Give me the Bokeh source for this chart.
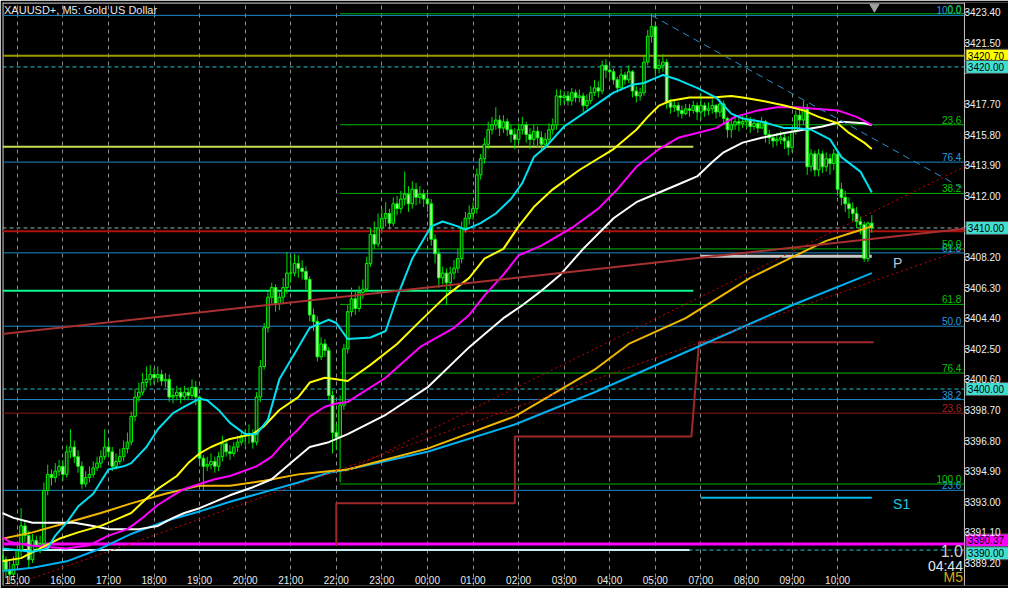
from bokeh.plotting import figure
from bokeh.models import ColumnDataSource, Range1d, FixedTicker, Label, NumeralTickFormatter
from bokeh.core.properties import value
from bokeh.embed import file_html
from bokeh.resources import INLINE

FONT = "Liberation Sans"

# ---------------- axis labels ----------------
hour_labels = ["15:00", "16:00", "17:00", "18:00", "19:00", "20:00", "21:00", "22:00", "23:00",
               "00:00", "01:00", "02:00", "03:00", "04:00", "05:00", "07:00", "08:00", "09:00", "10:00"]
bars_per_hour = 12
price_ticks = [3389.20, 3391.10, 3393.00, 3394.90, 3396.80, 3398.70, 3400.60, 3402.50, 3404.40,
               3406.30, 3408.20, 3410.10, 3412.00, 3413.90, 3415.80, 3417.70, 3419.60, 3421.50, 3423.40]
hidden_ticks = [3410.10, 3419.60]   # covered by the current-price boxes

# ---------------- M5 candles (bar index 0 = 15:00) ----------------
first_bar = -4
first_open = 3389.7
close = [
    3389.4, 3388.8, 3388.5, 3389.1,
    3390.0, 3391.5, 3390.9, 3389.4, 3390.6, 3390.3, 3390.4, 3393.7, 3394.7, 3394.5, 3394.9, 3395.2,
    3394.7, 3396.1, 3396.4, 3395.8, 3395.2, 3394.1, 3394.5, 3394.7, 3395.1, 3395.4, 3395.8, 3396.4,
    3396.1, 3395.2, 3395.5, 3395.8, 3396.3, 3396.7, 3398.3, 3399.5, 3399.8, 3400.4, 3400.6, 3400.9,
    3400.7, 3400.9, 3400.5, 3400.6, 3399.5, 3399.6, 3399.8, 3399.5, 3399.8, 3399.6, 3400.1, 3399.5,
    3395.7, 3395.2, 3395.3, 3395.5, 3395.2, 3395.8, 3396.6, 3396.1, 3396.0, 3396.4, 3396.7, 3397.1,
    3397.1, 3397.2, 3396.7, 3399.5, 3401.4, 3403.8, 3405.7, 3406.3, 3405.3, 3405.7, 3406.3, 3407.2,
    3407.2, 3407.8, 3407.5, 3407.3, 3406.8, 3404.6, 3404.2, 3402.0, 3402.8, 3402.4, 3399.6, 3397.3,
    3397.0, 3399.0, 3402.5, 3404.8, 3405.6, 3405.0, 3406.0, 3406.2, 3407.8, 3409.6, 3409.0, 3410.0,
    3410.6, 3410.9, 3410.3, 3411.5, 3411.2, 3411.8, 3412.1, 3411.5, 3412.4, 3411.9, 3412.1, 3411.8,
    3411.5, 3409.3, 3408.4, 3406.9, 3407.2, 3406.6, 3407.2, 3407.5, 3408.1, 3410.0, 3410.6, 3410.9,
    3411.2, 3413.3, 3414.3, 3415.2, 3416.1, 3416.4, 3416.7, 3416.2, 3416.6, 3416.1, 3415.8, 3415.5,
    3416.1, 3416.4, 3415.8, 3415.5, 3416.0, 3415.6, 3415.2, 3415.5, 3416.1, 3416.4, 3418.2, 3418.1,
    3418.2, 3417.9, 3418.4, 3418.1, 3418.2, 3417.6, 3417.9, 3418.4, 3418.7, 3418.5, 3420.1, 3419.8,
    3419.7, 3419.2, 3418.7, 3419.5, 3419.2, 3419.7, 3418.5, 3418.2, 3418.4, 3420.3, 3421.9, 3422.5,
    3419.9, 3420.1, 3420.3, 3417.8, 3417.5, 3417.6, 3417.3, 3417.1, 3417.4, 3417.3, 3417.6, 3417.2,
    3417.6, 3417.3, 3417.4, 3417.6, 3417.2, 3417.7, 3416.8, 3416.1, 3416.4, 3416.6, 3416.5, 3416.6,
    3416.7, 3416.3, 3416.5, 3416.2, 3416.6, 3415.8, 3415.6, 3415.4, 3415.5, 3415.6, 3415.4, 3415.0,
    3416.0, 3417.0, 3416.7, 3417.4, 3413.8, 3414.6, 3413.6, 3414.6, 3413.8, 3414.3, 3414.0, 3414.6,
    3412.4, 3411.9, 3411.5, 3411.2, 3410.9, 3410.4, 3410.2, 3408.1, 3410.3, 3410.0,
]
high = [
    3390.0, 3389.6, 3389.3, 3389.6,
    3390.3, 3392.6, 3391.8, 3391.2, 3391.0, 3390.9, 3390.9, 3394.2, 3395.3, 3395.0, 3395.4, 3395.6,
    3395.6, 3396.5, 3397.5, 3396.8, 3396.2, 3395.5, 3394.9, 3395.2, 3395.5, 3395.8, 3396.2, 3397.5,
    3396.8, 3396.4, 3396.0, 3396.3, 3396.8, 3397.3, 3398.6, 3400.0, 3400.4, 3401.0, 3401.4, 3401.5,
    3401.3, 3401.4, 3401.2, 3401.0, 3400.9, 3400.0, 3400.2, 3400.1, 3400.2, 3400.1, 3400.6, 3400.5,
    3399.6, 3395.9, 3395.8, 3396.0, 3395.8, 3396.1, 3397.1, 3396.9, 3396.5, 3396.7, 3397.1, 3397.4,
    3397.5, 3397.8, 3397.5, 3399.8, 3401.8, 3404.1, 3406.0, 3406.6, 3406.5, 3406.0, 3406.9, 3408.5,
    3408.3, 3408.4, 3408.3, 3408.0, 3407.6, 3407.0, 3405.0, 3404.5, 3403.2, 3403.1, 3402.6, 3399.9,
    3397.8, 3399.6, 3402.8, 3405.2, 3406.3, 3406.1, 3406.4, 3406.8, 3408.2, 3410.0, 3410.4, 3410.9,
    3411.2, 3411.6, 3411.2, 3411.9, 3412.0, 3412.3, 3413.5, 3412.6, 3412.9, 3412.8, 3412.6, 3412.4,
    3412.2, 3411.8, 3409.6, 3408.7, 3407.6, 3407.5, 3407.6, 3408.0, 3408.7, 3410.4, 3411.0, 3411.4,
    3411.6, 3413.7, 3414.6, 3415.6, 3416.6, 3416.9, 3417.5, 3417.0, 3417.0, 3416.8, 3416.4, 3416.2,
    3416.5, 3416.9, 3416.6, 3416.2, 3416.4, 3416.3, 3416.0, 3415.9, 3416.5, 3416.8, 3418.6, 3418.6,
    3418.5, 3418.5, 3418.7, 3418.6, 3418.6, 3418.4, 3418.3, 3418.8, 3419.2, 3419.1, 3420.4, 3420.5,
    3420.3, 3419.9, 3419.4, 3419.9, 3419.7, 3420.1, 3419.8, 3418.8, 3418.7, 3420.7, 3422.3, 3423.3,
    3422.8, 3420.5, 3420.8, 3420.5, 3418.0, 3417.9, 3417.8, 3417.6, 3417.7, 3417.7, 3417.9, 3417.8,
    3418.4, 3417.8, 3417.8, 3418.0, 3417.7, 3418.0, 3417.9, 3416.9, 3416.8, 3417.0, 3416.9, 3417.0,
    3417.1, 3416.9, 3416.8, 3416.7, 3416.9, 3416.7, 3416.1, 3415.8, 3415.9, 3416.0, 3415.9, 3415.7,
    3416.3, 3417.3, 3417.4, 3417.9, 3417.7, 3414.9, 3414.8, 3414.9, 3414.8, 3414.7, 3414.6, 3414.9,
    3414.6, 3412.8, 3412.3, 3411.9, 3411.6, 3411.3, 3410.7, 3410.4, 3410.4, 3410.8,
]
low = [
    3388.6, 3388.3, 3387.9, 3388.2,
    3389.0, 3389.6, 3390.5, 3388.9, 3389.2, 3389.9, 3389.8, 3390.2, 3393.4, 3394.0, 3394.2, 3394.6,
    3394.3, 3394.5, 3395.7, 3395.4, 3394.8, 3393.8, 3393.9, 3394.2, 3394.5, 3394.9, 3395.1, 3395.6,
    3395.8, 3394.9, 3395.0, 3395.3, 3395.5, 3396.0, 3396.5, 3398.0, 3399.2, 3399.6, 3400.1, 3400.2,
    3400.3, 3400.4, 3400.2, 3400.1, 3399.2, 3399.1, 3399.3, 3399.1, 3399.3, 3399.3, 3399.4, 3399.0,
    3395.2, 3393.7, 3394.9, 3395.0, 3394.8, 3394.9, 3395.5, 3395.8, 3395.6, 3395.8, 3396.1, 3396.5,
    3396.5, 3396.6, 3396.3, 3396.5, 3399.2, 3401.2, 3403.5, 3405.3, 3404.8, 3404.9, 3405.3, 3405.9,
    3406.6, 3407.0, 3406.9, 3406.8, 3406.2, 3404.2, 3403.6, 3401.7, 3401.8, 3402.0, 3399.3, 3396.0,
    3396.2, 3394.2, 3398.7, 3402.2, 3404.5, 3404.6, 3404.8, 3405.6, 3406.0, 3407.6, 3408.7, 3408.8,
    3409.8, 3410.1, 3409.9, 3410.1, 3410.8, 3410.9, 3411.4, 3411.0, 3411.2, 3411.4, 3411.5, 3411.3,
    3411.0, 3408.9, 3407.8, 3406.3, 3406.5, 3405.2, 3406.2, 3406.8, 3407.2, 3407.8, 3409.7, 3410.2,
    3410.5, 3410.9, 3413.0, 3414.0, 3414.9, 3415.8, 3416.1, 3415.7, 3415.9, 3415.7, 3415.3, 3414.9,
    3415.2, 3415.8, 3415.3, 3414.9, 3415.1, 3415.0, 3414.7, 3414.9, 3415.3, 3415.8, 3416.1, 3417.6,
    3417.7, 3417.6, 3417.6, 3417.8, 3417.8, 3417.2, 3417.4, 3417.7, 3418.2, 3418.1, 3418.3, 3419.3,
    3419.2, 3418.9, 3418.4, 3418.5, 3418.9, 3419.0, 3418.1, 3417.8, 3417.9, 3418.2, 3420.1, 3421.5,
    3419.4, 3419.6, 3419.7, 3417.4, 3417.1, 3417.2, 3416.9, 3416.8, 3417.0, 3416.9, 3417.1, 3416.7,
    3416.7, 3416.9, 3417.0, 3417.1, 3416.8, 3416.9, 3416.4, 3415.6, 3415.6, 3416.1, 3416.0, 3416.2,
    3416.2, 3415.9, 3416.1, 3415.9, 3416.2, 3415.3, 3415.2, 3415.0, 3415.1, 3415.2, 3414.9, 3414.5,
    3414.7, 3415.8, 3416.2, 3416.4, 3413.3, 3413.5, 3413.2, 3413.2, 3413.4, 3413.5, 3413.3, 3413.6,
    3412.0, 3411.4, 3411.0, 3410.6, 3410.4, 3410.0, 3409.6, 3407.9, 3407.9, 3409.7,
]

# ---------------- moving averages (bar index, price) ----------------
ma_cyan_i = [-4, 4, 8, 10, 13, 16, 20, 24, 28, 30, 34, 37, 41, 44, 48, 50, 53, 56, 60, 63, 66, 69, 74, 77,
             82, 84, 87, 93, 97, 100, 104, 109, 112, 116, 118, 122, 126, 130, 133, 136, 139, 144, 149, 157,
             162, 165, 168, 170, 174, 179, 184, 188, 191, 196, 202, 205, 209, 214, 217, 222, 225]
ma_cyan_p = [3390.1, 3389.9, 3390.1, 3390.9, 3391.7, 3392.7, 3393.5, 3395.0, 3395.2, 3395.4, 3396.4, 3397.5,
             3398.5, 3398.9, 3399.4, 3399.3, 3398.7, 3397.9, 3397.2, 3397.2, 3398.1, 3400.6, 3402.6, 3403.8,
             3404.3, 3404.1, 3403.1, 3403.2, 3403.6, 3405.7, 3408.1, 3410.1, 3410.4, 3410.1, 3409.9, 3410.3,
             3410.9, 3411.8, 3412.8, 3414.4, 3415.0, 3416.3, 3417.1, 3418.4, 3418.9, 3419.0, 3419.3, 3419.5,
             3419.2, 3418.7, 3418.1, 3417.1, 3416.8, 3416.6, 3416.2, 3416.2, 3416.1, 3415.5, 3414.4, 3413.5,
             3412.2]
ma_yellow_i = [-4, 1, 6, 11, 16, 22, 27, 30, 34, 37, 42, 45, 48, 51, 56, 62, 65, 69, 74, 77, 81, 84, 87, 93,
               100, 106, 113, 119, 123, 128, 132, 136, 141, 148, 157, 163, 166, 169, 172, 177, 183, 188, 191,
               196, 202, 207, 211, 216, 219, 223, 225]
ma_yellow_p = [3389.3, 3389.5, 3390.1, 3390.7, 3391.1, 3391.5, 3392.0, 3392.3, 3393.2, 3393.8, 3394.6, 3395.4,
               3396.0, 3396.4, 3396.9, 3397.2, 3397.7, 3398.7, 3399.5, 3400.4, 3400.7, 3400.6, 3400.5, 3401.5,
               3402.8, 3404.2, 3405.8, 3406.9, 3408.1, 3408.7, 3410.1, 3411.3, 3412.4, 3413.6, 3414.9, 3416.1,
               3416.9, 3417.6, 3417.9, 3418.1, 3418.1, 3418.2, 3418.1, 3417.9, 3417.6, 3417.3, 3416.9, 3416.5,
               3415.9, 3415.3, 3414.9]
ma_magenta_i = [-4, -2, 3, 7, 13, 19, 24, 29, 33, 37, 41, 44, 48, 52, 56, 63, 67, 70, 74, 77, 81, 84, 87, 97,
                106, 115, 119, 123, 128, 132, 138, 146, 153, 158, 163, 169, 174, 179, 184, 189, 195, 200, 205,
                210, 216, 221, 225]
ma_magenta_p = [3390.8, 3390.5, 3390.3, 3390.2, 3390.1, 3390.3, 3390.9, 3391.3, 3392.0, 3392.8, 3393.4, 3393.8,
                3394.1, 3394.4, 3394.6, 3395.2, 3395.8, 3396.6, 3397.5, 3398.3, 3398.9, 3399.1, 3399.2, 3400.7,
                3402.6, 3403.8, 3404.6, 3405.8, 3407.1, 3408.3, 3408.9, 3410.0, 3411.2, 3412.4, 3413.8, 3414.9,
                3415.6, 3415.9, 3416.2, 3416.9, 3417.3, 3417.5, 3417.5, 3417.4, 3417.3, 3416.9, 3416.4]
ma_white_i = [-4, -1, 4, 9, 15, 20, 24, 29, 32, 37, 41, 44, 48, 51, 56, 62, 67, 72, 77, 82, 87, 97, 108, 119,
              123, 128, 133, 138, 143, 149, 157, 163, 169, 174, 179, 183, 186, 191, 196, 202, 207, 212, 217,
              223, 225]
ma_white_p = [3392.3, 3392.0, 3391.7, 3391.7, 3391.7, 3391.5, 3391.3, 3391.3, 3391.3, 3391.5, 3392.0, 3392.3,
              3392.6, 3392.9, 3393.4, 3393.9, 3394.4, 3395.4, 3396.4, 3396.7, 3397.2, 3398.4, 3400.1, 3402.6,
              3403.4, 3404.4, 3405.2, 3406.1, 3407.1, 3408.7, 3410.6, 3411.6, 3412.2, 3412.7, 3413.2, 3414.1,
              3414.7, 3415.3, 3415.6, 3415.9, 3416.1, 3416.3, 3416.6, 3416.5, 3416.4]
ma_gold_i = [-4, 4, 13, 22, 30, 39, 48, 56, 65, 74, 82, 87, 108, 131, 152, 161, 176, 193, 205, 213, 221, 225]
ma_gold_p = [3390.7, 3391.1, 3391.7, 3392.3, 3392.9, 3393.5, 3394.0, 3394.0, 3394.3, 3394.7, 3394.9, 3395.0,
             3396.3, 3398.3, 3401.2, 3402.8, 3404.4, 3406.9, 3408.3, 3409.2, 3409.8, 3410.1]
ma_blue_i = [-4, 4, 13, 22, 30, 39, 48, 56, 65, 74, 82, 87, 108, 131, 152, 178, 204, 225]
ma_blue_p = [3388.7, 3388.9, 3389.3, 3390.1, 3391.0, 3391.8, 3392.4, 3393.0, 3393.6, 3394.2, 3394.8, 3395.0,
             3396.1, 3397.8, 3399.8, 3402.5, 3405.2, 3407.2]

# ---------------- chart objects ----------------
fib_ratios = [0.0, 23.6, 38.2, 50.0, 61.8, 76.4, 100.0]
fib_green_high, fib_green_low, fib_green_start = 3423.3, 3394.1, 85
fib_blue_high, fib_blue_low = 3423.2, 3384.6
fib_red_level = 3398.5

hline_olive = 3420.70
hlines_cyan_dashed = [3420.00, 3400.00, 3390.00]
hline_bid = 3410.00
hline_red = 3409.8
hline_magenta = 3390.37
hline_lime = 3415.05
hline_spring = 3406.1
hline_pale = 3390.0
pivot_p = 3408.25
support_s1 = 3393.25
pivot_start, pivot_end = 180, 225

step_i = [84, 84, 131, 131, 177.5, 179.5, 225.5]
step_p = [3390.3, 3392.9, 3392.9, 3397.05, 3397.05, 3402.9, 3402.9]

trend_brown_i = [-4.4, 249.4]
trend_brown_p = [3403.4, 3409.95]
trend_dot_up_i = [85, 249.4]
trend_dot_up_p = [3394.7, 3413.8]
trend_dot_low_i = [-4.4, 249.4]
trend_dot_low_p = [3387.55, 3408.7]
trend_blue_i = [167, 249.4]
trend_blue_p = [3423.2, 3412.4]

box_prices = [3420.70, 3420.00, 3410.00, 3400.00, 3390.37, 3390.00]
box_colors = ["#ffff00", "#40e0d0", "#40e0d0", "#40e0d0", "#ff00ff", "#40e0d0"]

# ---------------- figure ----------------
# the frame spans the whole width; the price scale column sits right of AX (bar-index units)
W, H = 1008, 588
X0, AX, X1 = -3.9, 249.4, 261.0
Y0, Y1 = 3387.8, 3424.0
p = figure(width=W, height=H, x_range=Range1d(X0, X1), y_range=Range1d(Y0, Y1),
           output_backend="svg", toolbar_location=None, y_axis_location="right",
           background_fill_color="black", border_fill_color="black",
           min_border_left=2, min_border_top=2, min_border_right=0, min_border_bottom=0)
p.outline_line_color = None

hour_ticks = [k * bars_per_hour for k in range(len(hour_labels))]
p.xaxis.ticker = FixedTicker(ticks=hour_ticks, minor_ticks=[])
p.xaxis.major_label_overrides = {t: lab for t, lab in zip(hour_ticks, hour_labels)}
p.xaxis.axis_line_color = None
p.xaxis.major_tick_line_color = None
p.xaxis.major_tick_out = 0
p.xaxis.major_tick_in = 0
p.xaxis.minor_tick_line_color = None
p.xaxis.major_label_text_color = "#e8e8e8"
p.xaxis.major_label_text_font = FONT
p.xaxis.major_label_text_font_size = "10px"
p.xaxis.major_label_standoff = -11
p.xgrid.ticker = FixedTicker(ticks=hour_ticks, minor_ticks=[])
p.xgrid.grid_line_color = "#8c8c8c"
p.xgrid.grid_line_dash = "4 4"
p.ygrid.grid_line_color = None

p.yaxis.ticker = FixedTicker(ticks=price_ticks, minor_ticks=[])
p.yaxis.formatter = NumeralTickFormatter(format="0.00")
p.yaxis.major_label_overrides = {t: "" for t in hidden_ticks}
p.yaxis.axis_line_color = None
p.yaxis.major_tick_line_color = None
p.yaxis.major_tick_out = 0
p.yaxis.major_tick_in = 0
p.yaxis.minor_tick_line_color = None
p.yaxis.major_label_text_color = "#f0f0f0"
p.yaxis.major_label_text_font = FONT
p.yaxis.major_label_text_font_size = "10px"
p.yaxis.major_label_standoff = -44

# chart border, price-scale line and its tick marks
p.segment(x0=[X0 + 0.15, X0, AX], x1=[X0 + 0.15, AX, AX], y0=[Y0, Y1 - 0.04, Y0], y1=[Y1, Y1 - 0.04, Y1],
          line_color="#c8c8c8", line_width=1)
p.segment(x0=[AX] * len(price_ticks), x1=[AX + 1.05] * len(price_ticks), y0=price_ticks, y1=price_ticks,
          line_color="#c8c8c8", line_width=1)

# horizontal objects (all end at the price scale)
def hlines(prices, color, width=1, dash="solid", x_from=X0, x_to=AX):
    p.segment(x0=[x_from] * len(prices), x1=[x_to] * len(prices), y0=prices, y1=prices,
              line_color=color, line_width=width, line_dash=dash)

blue_fib = [fib_blue_low + r / 100.0 * (fib_blue_high - fib_blue_low) for r in fib_ratios]
green_fib = [fib_green_high - r / 100.0 * (fib_green_high - fib_green_low) for r in fib_ratios]

hlines(blue_fib, "#1e88c8")
hlines(green_fib, "#00b400", x_from=fib_green_start)
hlines([fib_red_level], "#8b1a1a")
hlines([hline_olive], "#9a9a00", 2)
hlines(hlines_cyan_dashed, "#20c8c8", 1, "4 3")
hlines([hline_magenta], "#ff00ff", 3)
hlines([hline_red], "#b01010", 2)
hlines([hline_bid], "#8fb0b0", 1, "4 3")
hlines([hline_lime], "#c8e050", 2, x_to=178)
hlines([hline_spring], "#10f890", 2, x_to=178)
hlines([hline_pale], "#c8f0f0", 2, x_to=177)
hlines([pivot_p], "#c8c8c8", 3, x_from=pivot_start, x_to=pivot_end)
hlines([support_s1], "#00b8e8", 2, x_from=pivot_start, x_to=pivot_end)
p.line(step_i, step_p, line_color="#a02828", line_width=2)

# candles
n = len(close)
bar = list(range(first_bar, first_bar + n))
opn = [first_open] + close[:-1]
top = [max(o, c) for o, c in zip(opn, close)]
bot = [min(o, c) for o, c in zip(opn, close)]
fill = ["#003000" if c >= o else "#b8f8a8" for o, c in zip(opn, close)]
src = ColumnDataSource(dict(x=bar, top=top, bottom=bot, high=high, low=low, fill=fill))
p.segment(x0="x", x1="x", y0="low", y1="high", source=src, line_color="#00e000", line_width=1)
p.vbar(x="x", width=0.7, top="top", bottom="bottom", fill_color="fill", line_color="#00f800",
       line_width=1, source=src)

# moving averages
p.line(ma_blue_i, ma_blue_p, line_color="#00b0f0", line_width=2)
p.line(ma_gold_i, ma_gold_p, line_color="#f0b800", line_width=2)
p.line(ma_white_i, ma_white_p, line_color="#ffffff", line_width=2)
p.line(ma_magenta_i, ma_magenta_p, line_color="#ff00ff", line_width=2)
p.line(ma_yellow_i, ma_yellow_p, line_color="#ffff00", line_width=2)
p.line(ma_cyan_i, ma_cyan_p, line_color="#00e0f0", line_width=2)

# trend lines
p.line(trend_brown_i, trend_brown_p, line_color="#a83030", line_width=2)
p.line(trend_dot_up_i, trend_dot_up_p, line_color="#d00000", line_width=1, line_dash="2 3")
p.line(trend_dot_low_i, trend_dot_low_p, line_color="#d00000", line_width=1, line_dash="2 3")
p.line(trend_blue_i, trend_blue_p, line_color="#2a8cc8", line_width=1, line_dash="7 5")
p.scatter([225.7], [3423.72], marker="inverted_triangle", size=9, color="#a0a0a0")

# fibo level texts (only levels inside the visible price range)
fx = AX - 0.8
labels_txt = ["%.1f" % r for r in fib_ratios]
bvis = [(lv, t) for lv, t in zip(blue_fib, labels_txt) if Y0 + 0.5 < lv < Y1]
gvis = [(lv, t) for lv, t in zip(green_fib, labels_txt) if Y0 + 0.5 < lv < Y1]
p.text(x=[fx] * len(bvis), y=[b[0] for b in bvis], text=[b[1] for b in bvis], text_align="right",
       text_baseline="bottom", text_color="#2a9ae0", text_font=value(FONT), text_font_size="10px", y_offset=-1)
p.text(x=[fx] * len(gvis), y=[g[0] for g in gvis], text=[g[1] for g in gvis], text_align="right",
       text_baseline="bottom", text_color="#00c800", text_font=value(FONT), text_font_size="10px", y_offset=-1)
p.text(x=[fx], y=[fib_red_level], text=["23.6"], text_align="right", text_baseline="bottom",
       text_color="#a82020", text_font=value(FONT), text_font_size="10px", y_offset=-1)

p.text(x=[230.6], y=[pivot_p - 0.4], text=["P"], text_align="left", text_baseline="middle",
       text_color="#b0c8e0", text_font=value(FONT), text_font_size="14px")
p.text(x=[230.6], y=[support_s1 - 0.4], text=["S1"], text_align="left", text_baseline="middle",
       text_color="#20c8e0", text_font=value(FONT), text_font_size="14px")

p.text(x=[AX - 0.4], y=[3389.55], text=["1.0"], text_align="right", text_baseline="bottom",
       text_color="#d0d0d0", text_font=value(FONT), text_font_size="16px")
p.text(x=[AX - 0.4], y=[3388.5], text=["04:44"], text_align="right", text_baseline="bottom",
       text_color="#e0e8f0", text_font=value(FONT), text_font_size="14px")
p.text(x=[AX - 0.4], y=[Y0 + 0.05], text=["M5"], text_align="right", text_baseline="bottom",
       text_color="#d8a818", text_font=value(FONT), text_font_size="14px")

p.add_layout(Label(x=X0 + 0.4, y=Y1 - 0.1, text="XAUUSD+, M5:  Gold US Dollar", text_baseline="top",
                   text_color="#e8e8e8", text_font=FONT, text_font_size="11px"))

# current-price boxes on the price scale (the two 3390 boxes are stacked around 3390.2)
box_h = 0.8
box_y = []
for pr in box_prices:
    if abs(pr - 3390.37) < 1e-6:
        box_y.append(3390.2 + box_h / 2)
    elif abs(pr - 3390.00) < 1e-6:
        box_y.append(3390.2 - box_h / 2)
    else:
        box_y.append(pr)
box_w = 11.4
p.rect(x=[AX + 0.4 + box_w / 2] * len(box_prices), y=box_y, width=box_w, height=box_h,
       fill_color=box_colors, line_color="#505050", line_width=1)
p.text(x=[AX + 0.9] * len(box_prices), y=box_y, text=["%.2f" % v for v in box_prices],
       text_align="left", text_baseline="middle", text_color="#000000", text_font=value(FONT),
       text_font_size="10px")

open("out.html", "w").write(file_html(p, INLINE))
